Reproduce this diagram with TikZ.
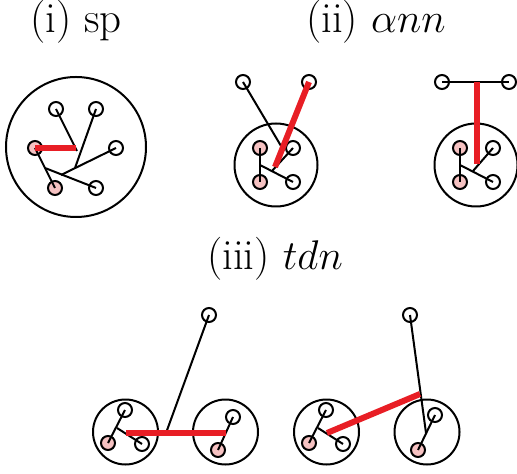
\documentclass[tikz,border=0pt]{standalone}
\usepackage{amsmath,amssymb}
\usepackage{xcolor}
\usepackage{tikz}
\definecolor{hotred}{RGB}{232,30,37}
\definecolor{hotpink}{RGB}{246,194,194}

\begin{document}
\begin{tikzpicture}[x=0.5pt,y=-0.5pt, every node/.style={font=\fontsize{21.5}{26}\selectfont}, vtx/.style={draw,circle,line width=1pt,minimum size=7pt,inner sep=0pt}, hit/.style={vtx,fill=hotpink}, blob/.style={draw,circle,line width=1pt,inner sep=0pt}, ln/.style={line width=1pt}, hot/.style={hotred,line width=3pt}]
\useasboundingbox (0,0) rectangle (517,474);
\node[anchor=base] (ti) at (76,33) {(i) sp};
\node[anchor=base] (tii) at (376,33) {(ii) $\alpha nn$};
\node[anchor=base] (tiii) at (275,270) {(iii) $tdn$};
\node[blob,minimum size=70pt] (sp) at (76,147) {};
\node[vtx] (a1) at (56,109) {};
\node[vtx] (a2) at (96,109) {};
\node[vtx] (a3) at (116,148) {};
\node[hit] (a4) at (35,148) {};
\node[hit] (a5) at (55,188) {};
\node[vtx] (a6) at (96,188) {};
\coordinate (ja) at (76,148);
\coordinate (jt) at (77,151);
\coordinate (jb) at (75,168);
\coordinate (jc) at (61,175);
\coordinate (jd) at (45,168);
\draw[ln] (a4.center)--(a5.center);
\draw[ln] (jd)--(a6.center);
\draw[ln] (a3.center)--(jc);
\draw[ln] (a2.center)--(jb);
\draw[ln] (a1.center)--(jt);
\draw[hot] (a4.center)--(ja);
\node[blob,minimum size=41.5pt] (ann1) at (276,165) {};
\node[vtx] (b1) at (243,82) {};
\node[vtx] (b2) at (309,82) {};
\node[hit] (b3) at (260,148) {};
\node[hit] (b4) at (260,182) {};
\node[vtx] (b5) at (293,148) {};
\node[vtx] (b6) at (293,182) {};
\coordinate (bj1) at (260,165);
\coordinate (bj2) at (272,171);
\coordinate (bk) at (284,151);
\coordinate (bh) at (275,167);
\draw[ln] (b3.center)--(b4.center);
\draw[ln] (bj1)--(b6.center);
\draw[ln] (b5.center)--(bj2);
\draw[ln] (b1.center)--(bk);
\draw[hot] (b2.center)--(bh);
\node[blob,minimum size=41.5pt] (ann2) at (476,165) {};
\node[vtx] (c1) at (442,82) {};
\node[vtx] (c2) at (509,82) {};
\node[hit] (c3) at (460,148) {};
\node[hit] (c4) at (460,182) {};
\node[vtx] (c5) at (493,148) {};
\node[vtx] (c6) at (493,182) {};
\coordinate (cj1) at (460,165);
\coordinate (cj2) at (473,171);
\coordinate (ct) at (477,82);
\coordinate (ch) at (477,164);
\draw[ln] (c3.center)--(c4.center);
\draw[ln] (cj1)--(c6.center);
\draw[ln] (c5.center)--(cj2);
\draw[ln] (c1.center)--(c2.center);
\draw[hot] (ct)--(ch);
\node[blob,minimum size=32.5pt] (tdl1) at (125.5,432) {};
\node[blob,minimum size=32.5pt] (tdr1) at (225.5,432) {};
\node[vtx] (d1) at (209,315) {};
\node[vtx] (d2) at (125,410) {};
\node[hit] (d3) at (108,443) {};
\node[vtx] (d4) at (142,444) {};
\node[vtx] (d5) at (233,417) {};
\node[hit] (d6) at (218,450) {};
\coordinate (dj) at (117,428);
\coordinate (dr1) at (126,433);
\coordinate (dr2) at (226,433);
\coordinate (dm) at (166,433);
\draw[ln] (d2.center)--(d3.center);
\draw[ln] (dj)--(d4.center);
\draw[ln] (d5.center)--(d6.center);
\draw[ln] (d1.center)--(dm);
\draw[hot] (dr1)--(dr2);
\node[blob,minimum size=32.5pt] (tdl2) at (326.5,432) {};
\node[blob,minimum size=32.5pt] (tdr2) at (427,432) {};
\node[vtx] (e1) at (410,315) {};
\node[vtx] (e2) at (326,410) {};
\node[hit] (e3) at (309,443) {};
\node[vtx] (e4) at (343,444) {};
\node[vtx] (e5) at (435,415) {};
\node[hit] (e6) at (418,450) {};
\coordinate (ej) at (318,428);
\coordinate (er1) at (327,433);
\coordinate (er2) at (420,394);
\coordinate (em) at (426,433);
\draw[ln] (e2.center)--(e3.center);
\draw[ln] (ej)--(e4.center);
\draw[ln] (e5.center)--(e6.center);
\draw[ln] (e1.center)--(em);
\draw[hot] (er1)--(er2);
\end{tikzpicture}
\end{document}
